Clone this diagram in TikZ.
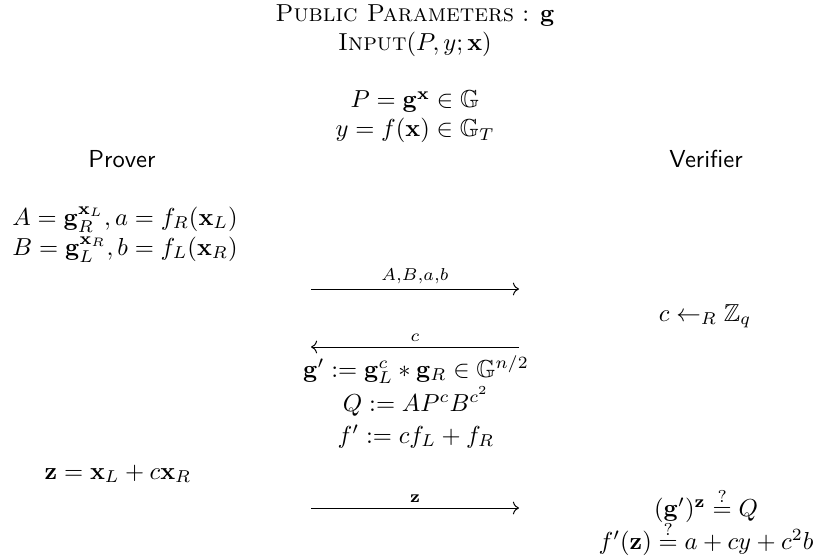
\documentclass[tikz,border=0pt]{standalone}
\usepackage{amsmath,amssymb}
\usepackage{tikz}
\usetikzlibrary{arrows.meta,positioning}

\begin{document}
\begin{tikzpicture}[
  x=0.407pt,y=-0.407pt,
  txt/.style={anchor=base,inner sep=0pt},
  ltxt/.style={anchor=base west,inner sep=0pt},
  party/.style={anchor=base,inner sep=0pt,font=\sffamily},
  msg/.style={-{Computer Modern Rightarrow},line width=0.4pt},
  msglbl/.style={above=2pt,midway,inner sep=0pt}
]
\useasboundingbox (0,0) rectangle (815,559);

% common input
\node[txt] (pub) at (415,22) {\textsc{Public Parameters} : $\mathbf{g}$};
\node[txt] (inp) at (415,51) {\textsc{Input}$(P,y;\mathbf{x})$};
\node[txt] (peq) at (415,108) {$P=\mathbf{g}^{\mathbf{x}}\in\mathbb{G}$};
\node[txt] (yeq) at (415,137) {$y=f(\mathbf{x})\in\mathbb{G}_T$};

% parties
\node[party] (prover) at (122,167) {Prover};
\node[party] (verifier) at (706,167) {Verifier};

% prover commits
\node[ltxt] (Aeq) at (12,225) {$A=\mathbf{g}_R^{\mathbf{x}_L},a=f_R(\mathbf{x}_L)$};
\node[ltxt] (Beq) at (12,255) {$B=\mathbf{g}_L^{\mathbf{x}_R},b=f_L(\mathbf{x}_R)$};

\coordinate (m1a) at (311,289);
\coordinate (m1b) at (519,289);
\draw[msg] (m1a) -- (m1b) node[msglbl] {$\scriptstyle A,B,a,b$};

% challenge
\node[txt] (chal) at (705,321) {$c\leftarrow_R\mathbb{Z}_q$};
\coordinate (m2a) at (519,347);
\coordinate (m2b) at (311,347);
\draw[msg] (m2a) -- (m2b) node[msglbl] {$\scriptstyle c$};

% both sides fold
\node[txt] (gfold) at (416,377) {$\mathbf{g}':=\mathbf{g}_L^c*\mathbf{g}_R\in\mathbb{G}^{n/2}$};
\node[txt] (Qfold) at (416,411) {$Q:=AP^cB^{c^2}$};
\node[txt] (ffold) at (416,443) {$f':=cf_L+f_R$};

% response
\node[txt] (zeq) at (118,479) {$\mathbf{z}=\mathbf{x}_L+c\mathbf{x}_R$};
\coordinate (m3a) at (311,508);
\coordinate (m3b) at (519,508);
\draw[msg] (m3a) -- (m3b) node[msglbl] {$\scriptstyle\mathbf{z}$};

% checks
\node[txt] (chk1) at (706,516) {$(\mathbf{g}')^{\mathbf{z}}\stackrel{?}{=}Q$};
\node[txt] (chk2) at (706,549) {$f'(\mathbf{z})\stackrel{?}{=}a+cy+c^2b$};
\end{tikzpicture}
\end{document}
